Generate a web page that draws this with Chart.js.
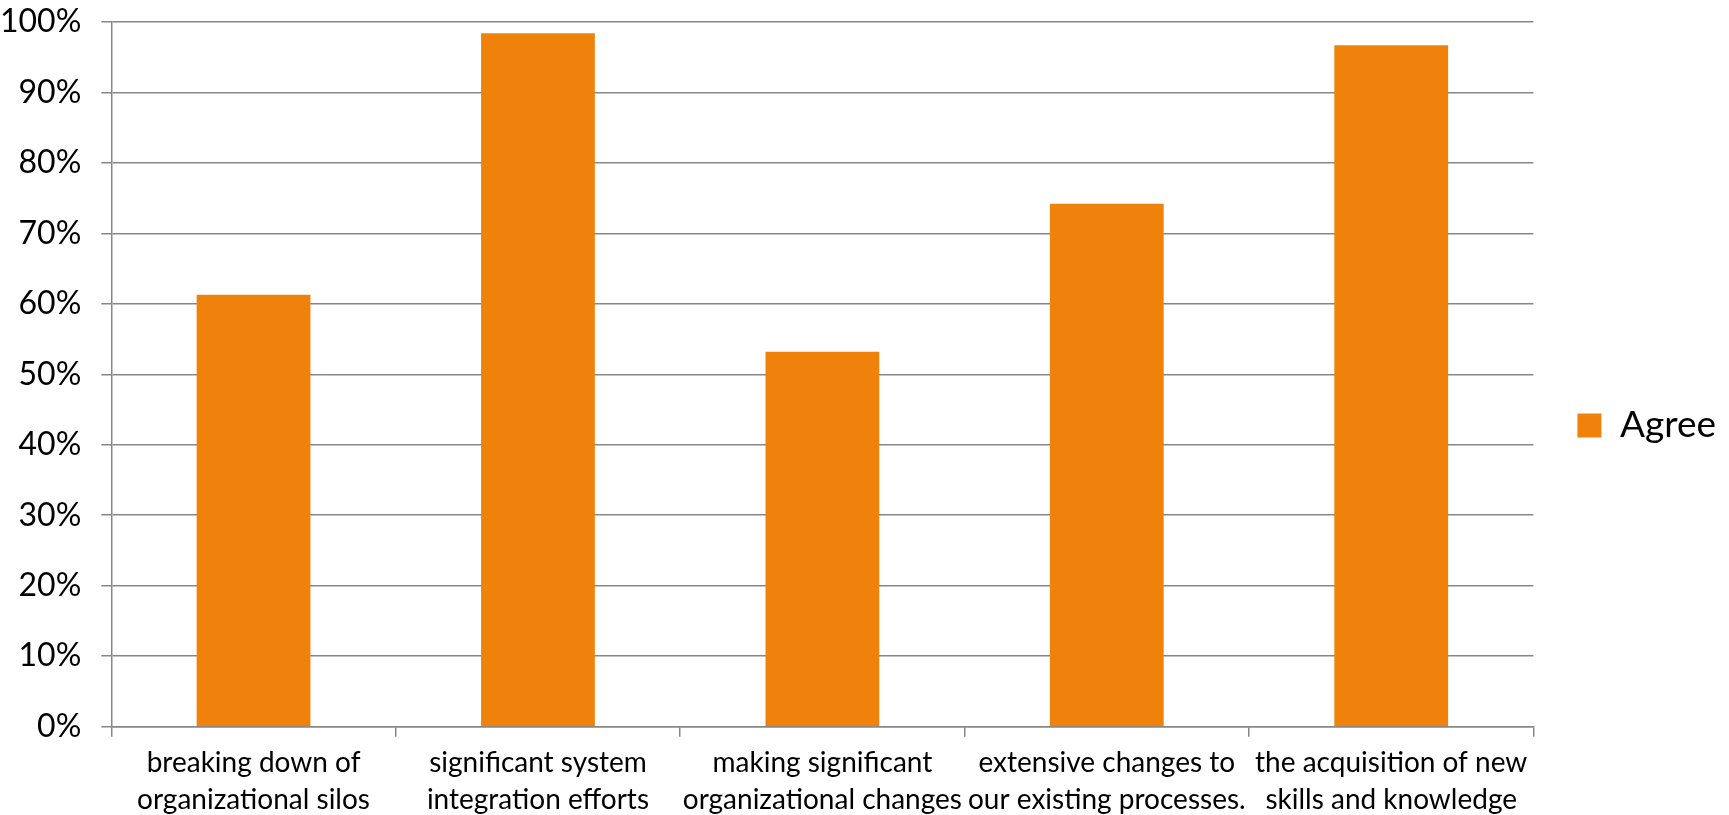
<!DOCTYPE html>
<html>
<head>
<meta charset="utf-8">
<script src="https://cdn.jsdelivr.net/npm/chart.js@4/dist/chart.umd.min.js"></script>
<style>
  html, body { margin: 0; padding: 0; background: #fff; }
</style>
</head>
<body>
<canvas id="agree_chart" width="1729" height="815"></canvas>
<script>
const categories = [
    ['breaking down of', 'organizational silos'],
    ['significant system', 'integration efforts'],
    ['making significant', 'organizational changes'],
    ['extensive changes to', 'our existing processes.'],
    ['the acquisition of new', 'skills and knowledge']
];
const agreeValues = [61.3, 98.4, 53.2, 74.2, 96.7];
const yTicks = [0, 10, 20, 30, 40, 50, 60, 70, 80, 90, 100];

const gridGray = '#878787';
const fontName = 'Lato';

const ctx = document.getElementById('agree_chart').getContext('2d');
new Chart(ctx, {
    type: 'bar',
    data: {
        labels: categories,
        datasets: [
            {
                label: 'Agree',
                data: agreeValues,
                backgroundColor: //naranja
                    'rgb(240,130,11)',
                borderWidth: 0,
                barPercentage: 0.4,
                categoryPercentage: 1.0
            }
        ]
    },
    options: {
        responsive: false,
        animation: false,
        layout: {
            padding: {top: 0, left: -20, right: 3, bottom: -11}
        },
        plugins: {
            tooltip: {enabled: false},
            legend: {
                position: 'right',
                title: {
                    display: true,
                    text: ' ',
                    font: {family: fontName, size: 10, lineHeight: 1},
                    padding: {top: 0, bottom: 15}
                },
                labels: {
                    boxWidth: 24,
                    boxHeight: 24,
                    padding: 44,
                    color: '#000',
                    font: {family: fontName, size: 37}
                }
            }
        },
        scales: {
            x: {
                grid: {
                    display: true,
                    drawOnChartArea: false,
                    drawTicks: true,
                    tickLength: 10,
                    color: gridGray,
                    lineWidth: 1.5
                },
                border: {display: true, color: gridGray, width: 1.5},
                ticks: {
                    color: '#000',
                    padding: 8,
                    maxRotation: 0,
                    autoSkip: false,
                    font: {family: fontName, size: 28, lineHeight: 1.31}
                }
            },
            y: {
                min: 0,
                max: 100,
                afterBuildTicks: axis => {
                    axis.ticks = yTicks.map(v => ({value: v}));
                },
                grid: {
                    color: gridGray,
                    lineWidth: 1.5,
                    tickLength: 10
                },
                border: {display: true, color: gridGray, width: 1.5},
                ticks: {
                    color: '#000',
                    padding: 20,
                    autoSkip: false,
                    font: {family: fontName, size: 32, lineHeight: 0.125},
                    callback: v => v + '%'
                }
            }
        }
    }
});
</script>
</body>
</html>
